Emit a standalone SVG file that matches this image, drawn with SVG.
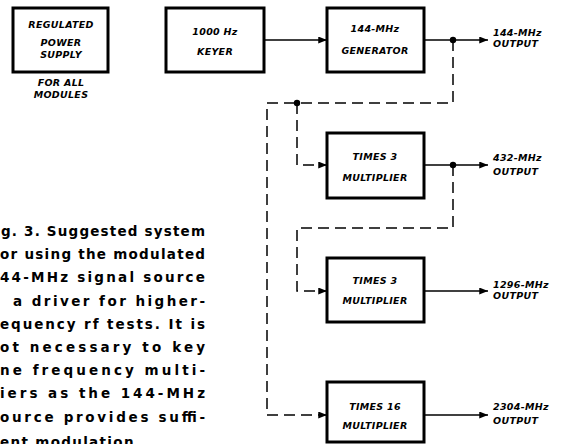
<svg xmlns="http://www.w3.org/2000/svg" width="562" height="444" viewBox="0 0 562 444">
<defs>
<style>
.box{fill:#fff;stroke:#000;stroke-width:3}
.lbl{font-family:"DejaVu Sans","Liberation Sans",sans-serif;font-weight:bold;font-style:italic;font-size:9.5px;letter-spacing:0.3px;fill:#000}
.mid{text-anchor:middle}
.cap{font-family:"DejaVu Sans","Liberation Sans",sans-serif;font-weight:bold;font-size:13.5px;fill:#000}
.solid{fill:none;stroke:#000;stroke-width:1.5}
.dash{fill:none;stroke:#000;stroke-width:1.5;stroke-dasharray:11 6}
</style>
<marker id="arr" viewBox="0 0 10 8" refX="10" refY="4" markerWidth="9" markerHeight="7" markerUnits="userSpaceOnUse" orient="auto">
<path d="M0,0 L10,4 L0,8 z" fill="#000"/>
</marker>
</defs>
<rect width="562" height="444" fill="#fff"/>

<g id="power">
<rect class="box" x="13" y="8" width="95" height="64"/>
<text class="lbl mid" x="61" y="28">REGULATED</text>
<text class="lbl mid" x="61" y="46">POWER</text>
<text class="lbl mid" x="61" y="58">SUPPLY</text>
<text class="lbl mid" x="61" y="86">FOR ALL</text>
<text class="lbl mid" x="61" y="98">MODULES</text>
</g>

<g id="keyer">
<rect class="box" x="166" y="8" width="98" height="64"/>
<text class="lbl mid" x="215" y="35">1000 Hz</text>
<text class="lbl mid" x="215" y="55">KEYER</text>
</g>

<g id="generator">
<rect class="box" x="327" y="8" width="97" height="64"/>
<text class="lbl mid" x="375" y="32">144-MHz</text>
<text class="lbl mid" x="375" y="54">GENERATOR</text>
</g>

<g id="times3a">
<rect class="box" x="327" y="133" width="97" height="65"/>
<text class="lbl mid" x="375" y="160">TIMES  3</text>
<text class="lbl mid" x="375" y="181">MULTIPLIER</text>
</g>

<g id="times3b">
<rect class="box" x="327" y="258" width="97" height="64"/>
<text class="lbl mid" x="375" y="284">TIMES  3</text>
<text class="lbl mid" x="375" y="304">MULTIPLIER</text>
</g>

<g id="times16">
<rect class="box" x="327" y="382" width="97" height="60"/>
<text class="lbl mid" x="375" y="410">TIMES  16</text>
<text class="lbl mid" x="375" y="429">MULTIPLIER</text>
</g>

<g id="outputs">
<text class="lbl" x="493" y="36">144-MHz</text>
<text class="lbl" x="493" y="47">OUTPUT</text>
<text class="lbl" x="493" y="161">432-MHz</text>
<text class="lbl" x="493" y="175">OUTPUT</text>
<text class="lbl" x="493" y="288">1296-MHz</text>
<text class="lbl" x="493" y="299">OUTPUT</text>
<text class="lbl" x="493" y="410">2304-MHz</text>
<text class="lbl" x="493" y="424">OUTPUT</text>
</g>

<g id="connectors">
<path class="solid" d="M264,40 H327" marker-end="url(#arr)"/>
<path class="solid" d="M424,40 H488" marker-end="url(#arr)"/>
<path class="solid" d="M424,165 H488" marker-end="url(#arr)"/>
<path class="solid" d="M424,291 H488" marker-end="url(#arr)"/>
<path class="solid" d="M424,415 H488" marker-end="url(#arr)"/>
<path class="dash" d="M453,40 V103 H267 V415 H327" marker-end="url(#arr)"/>
<path class="dash" d="M297,103 V165 H327" marker-end="url(#arr)"/>
<path class="dash" d="M453,165 V228 H297 V291 H327" marker-end="url(#arr)"/>
<circle cx="453" cy="40" r="3.2" fill="#000"/>
<circle cx="297" cy="103" r="3.2" fill="#000"/>
<circle cx="453" cy="165" r="3.2" fill="#000"/>
</g>

<g id="caption">
<text class="cap" x="1" y="236" textLength="204" lengthAdjust="spacing">g. 3. Suggested system</text>
<text class="cap" x="0" y="259" textLength="205" lengthAdjust="spacing">or using the modulated</text>
<text class="cap" x="0" y="282" textLength="205" lengthAdjust="spacing">44-MHz signal source</text>
<text class="cap" x="13" y="306" textLength="192" lengthAdjust="spacing">a driver for higher-</text>
<text class="cap" x="0" y="329" textLength="205" lengthAdjust="spacing">equency rf tests. It is</text>
<text class="cap" x="0" y="352" textLength="205" lengthAdjust="spacing">ot necessary to key</text>
<text class="cap" x="0" y="375" textLength="205" lengthAdjust="spacing">ne frequency multi-</text>
<text class="cap" x="0" y="398" textLength="205" lengthAdjust="spacing">iers as the 144-MHz</text>
<text class="cap" x="0" y="422" textLength="205" lengthAdjust="spacing">ource provides suffi-</text>
<text class="cap" x="0" y="447" textLength="140" lengthAdjust="spacing">ent modulation.</text>
</g>
</svg>
